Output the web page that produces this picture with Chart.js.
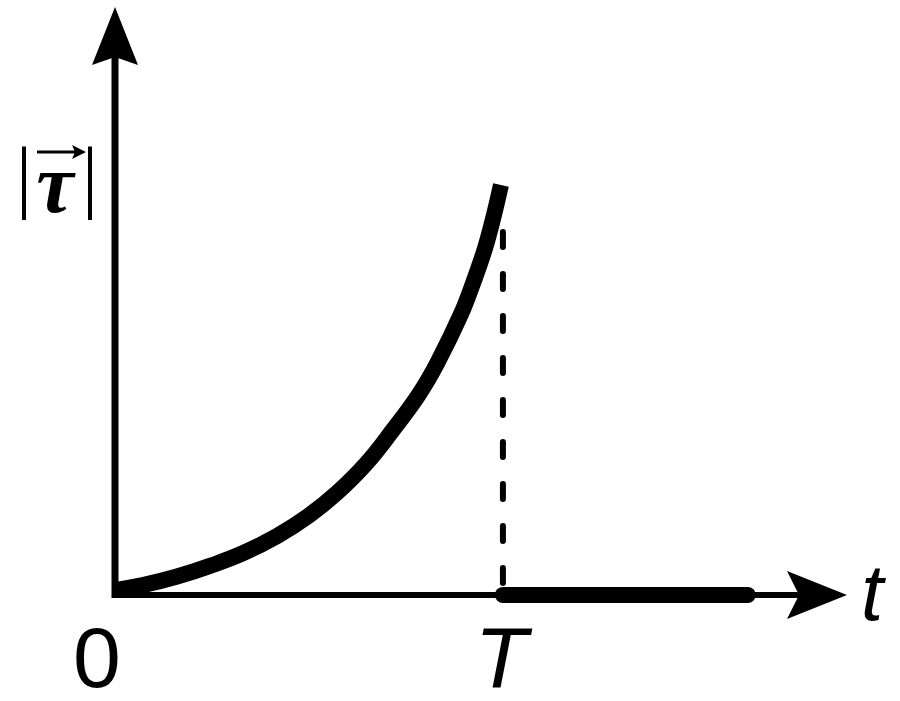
<!DOCTYPE html>
<html>
<head>
<meta charset="utf-8">
<script src="https://cdn.jsdelivr.net/npm/chart.js@4/dist/chart.umd.min.js"></script>
<style>
html, body { margin: 0; padding: 0; background: #fff; }
#wrap { width: 900px; height: 701px; }
</style>
</head>
<body>
<div id="wrap"><canvas id="torque"></canvas></div>
<script>
// t in units of T, |tau| in units of its value just before T
const curveT   = [0, 0.072, 0.160, 0.245, 0.330, 0.418, 0.500, 0.572, 0.649, 0.716, 0.784, 0.832, 0.892, 0.925, 0.954, 0.977, 0.995];
const curveTau = [0.012, 0.024, 0.045, 0.071, 0.102, 0.144, 0.194, 0.249, 0.322, 0.402, 0.490, 0.568, 0.685, 0.766, 0.846, 0.927, 1.0];
const afterT   = [1.0, 1.631];
const afterTau = [0, 0];
const dashT    = [1.0, 1.0];
const dashTau  = [0.885, 0];
const tMax   = 1.887;
const tauMax = 1.434;
const tickLabels = ["0", "T"];
const tickValues = [0, 1];

const SANS = '"Liberation Sans", Arial, sans-serif';

function pts(xs, ys) {
    return xs.map((v, i) => ({ x: v, y: ys[i] }));
}

const axisArrows = {
    id: 'axisArrows',
    beforeDatasetsDraw(chart) {
        let { ctx, scales: { x, y } } = chart;
        let ox = x.getPixelForValue(0), oy = y.getPixelForValue(0);
        let xEnd = x.getPixelForValue(tMax), yEnd = y.getPixelForValue(tauMax);
        ctx.save();
        ctx.strokeStyle = '#000';
        ctx.fillStyle = '#000';
        ctx.lineWidth = 7;
        ctx.beginPath(); ctx.moveTo(ox, oy + 3); ctx.lineTo(ox, yEnd + 45); ctx.stroke();
        ctx.lineWidth = 6;
        ctx.beginPath(); ctx.moveTo(ox - 3, oy); ctx.lineTo(xEnd - 45, oy); ctx.stroke();
        // arrow heads
        ctx.beginPath();
        ctx.moveTo(ox, yEnd); ctx.lineTo(ox + 23, yEnd + 58); ctx.lineTo(ox, yEnd + 50); ctx.lineTo(ox - 23, yEnd + 58);
        ctx.closePath(); ctx.fill();
        ctx.beginPath();
        ctx.moveTo(xEnd, oy); ctx.lineTo(xEnd - 60, oy - 24); ctx.lineTo(xEnd - 48, oy); ctx.lineTo(xEnd - 60, oy + 24);
        ctx.closePath(); ctx.fill();
        ctx.restore();
    },
    afterDatasetsDraw(chart) {
        let { ctx, scales: { x, y } } = chart;
        let oy = y.getPixelForValue(0);
        ctx.save();
        ctx.fillStyle = '#000';
        ctx.textAlign = 'center';
        ctx.textBaseline = 'alphabetic';
        // tick labels under the t axis
        ctx.font = '86px ' + SANS;
        ctx.fillText(tickLabels[0], x.getPixelForValue(tickValues[0]) - 18, oy + 92);
        ctx.font = 'italic 86px ' + SANS;
        ctx.fillText(tickLabels[1], x.getPixelForValue(tickValues[1]) - 2, oy + 92);
        // axis names
        ctx.textAlign = 'left';
        ctx.font = 'italic 80px ' + SANS;
        ctx.fillText('t', x.getPixelForValue(tMax) + 14, oy + 25);
        ctx.textAlign = 'center';
        ctx.font = '80px "Liberation Serif", serif';
        ctx.fillText('|', 24, 203);
        ctx.fillText('|', 90, 203);
        ctx.font = 'italic bold 84px "Liberation Serif", serif';
        ctx.fillText('τ', 55, 212);
        // vector arrow over tau
        ctx.lineWidth = 3;
        ctx.strokeStyle = '#000';
        ctx.beginPath(); ctx.moveTo(37, 152); ctx.lineTo(80, 152); ctx.stroke();
        ctx.beginPath(); ctx.moveTo(86, 152); ctx.lineTo(72, 145); ctx.lineTo(75, 152); ctx.lineTo(72, 159); ctx.closePath(); ctx.fill();
        ctx.restore();
    }
};

function draw() {
    new Chart(document.getElementById('torque'), {
        type: 'line',
        data: {
            datasets: [{
                data: pts(curveT, curveTau),
                borderColor: '#000',
                borderWidth: 16,
                borderCapStyle: 'butt',
                tension: 0.4,
                pointRadius: 0,
                clip: false
            }, {
                data: pts(afterT, afterTau),
                borderColor: '#000',
                borderWidth: 16,
                borderCapStyle: 'round',
                pointRadius: 0,
                clip: false
            }, {
                data: pts(dashT, dashTau),
                borderColor: '#000',
                borderWidth: 6,
                borderDash: [15, 27],
                borderCapStyle: 'round',
                pointRadius: 0,
                clip: false
            }]
        },
        options: {
            responsive: true,
            maintainAspectRatio: false,
            animation: false,
            events: [],
            layout: { padding: { left: 115, right: 53, top: 7, bottom: 106 } },
            scales: {
                x: { type: 'linear', min: 0, max: tMax, display: false },
                y: { type: 'linear', min: 0, max: tauMax, display: false }
            },
            plugins: {
                legend: { display: false },
                tooltip: { enabled: false }
            }
        },
        plugins: [axisArrows]
    });
}

Promise.all([
    document.fonts.load('86px "Liberation Sans"'),
    document.fonts.load('italic 86px "Liberation Sans"'),
    document.fonts.load('italic bold 84px "Liberation Serif"')
]).then(draw, draw);
</script>
</body>
</html>
